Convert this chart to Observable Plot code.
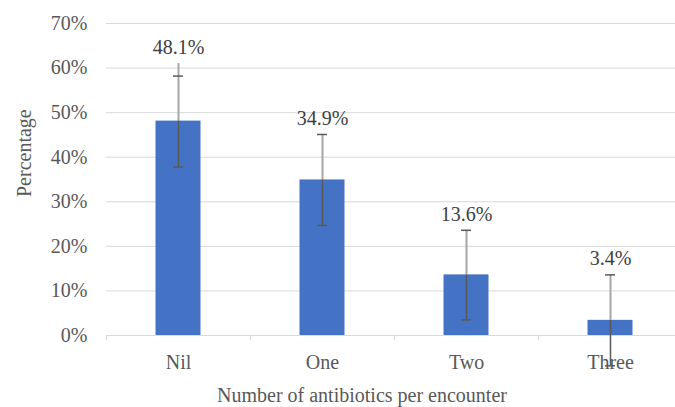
<!DOCTYPE html>
<html>
<head>
<meta charset="utf-8">
<script src="https://cdn.jsdelivr.net/npm/d3@7"></script>
<script src="https://cdn.jsdelivr.net/npm/@observablehq/plot@0.6"></script>
<style>
  html, body { margin: 0; padding: 0; background: #fff; }
  #chart svg { display: block; }
  #chart svg, #chart svg text { font-family: "Liberation Serif", "Times New Roman", serif !important; }
</style>
</head>
<body>
<div id="chart"></div>
<script>
const categories = ["Nil", "One", "Two", "Three"];
const values = [48.1, 34.9, 13.6, 3.4];
const errLow = [37.8, 24.7, 3.5, -6.8];
const errHigh = [58.2, 45.1, 23.6, 13.6];
const lineTop = [61.0, 45.1, 23.6, 13.6];
const yTicks = [0, 10, 20, 30, 40, 50, 60, 70];
const xTitle = "Number of antibiotics per encounter";
const yTitle = "Percentage";

const data = categories.map((c, i) => ({
  cat: c, value: values[i], low: errLow[i], high: errHigh[i], top: lineTop[i],
  label: values[i].toFixed(1) + "%"
}));

const font = "Liberation Serif";

const chart = Plot.plot({
  width: 675,
  height: 407,
  marginLeft: 106,
  marginRight: 0,
  marginTop: 23,
  marginBottom: 72,
  style: { fontFamily: font, fontSize: "20px", color: "#595959", background: "#fff" },
  x: { type: "band", domain: categories, range: [106, 682], padding: 0 },
  y: { domain: [0, 70] },
  marks: [
    Plot.gridY(yTicks, { stroke: "#d9d9d9", strokeOpacity: 1, strokeWidth: 1 }),
    Plot.axisY(yTicks, { tickSize: 0, tickPadding: 19, tickFormat: d => d + "%", fill: "#595959", fontSize: 20, fontFamily: font, label: null }),
    Plot.barY(data, { x: "cat", y: "value", fill: "#4472c4", insetLeft: 49.5, insetRight: 49.5 }),
    Plot.ruleY([0], { stroke: "#d9d9d9", strokeWidth: 1 }),
    Plot.axisX({ tickSize: 5, dx: -72, text: null, stroke: "#d9d9d9", label: null }),
    Plot.axisX({ tickSize: 0, tickPadding: 19, fill: "#595959", fontSize: 20, fontFamily: font, label: null }),
    Plot.ruleX(data, { x: "cat", y1: "value", y2: "top", stroke: "#a6a6a6", strokeWidth: 2 }),
    Plot.ruleX(data, { x: "cat", y1: "low", y2: "value", stroke: "#595959", strokeWidth: 1.5 }),
    Plot.tickY(data, { x: "cat", y: "high", stroke: "#595959", strokeWidth: 1.5, insetLeft: 67, insetRight: 67 }),
    Plot.tickY(data, { x: "cat", y: "low", stroke: "#595959", strokeWidth: 1.5, insetLeft: 67, insetRight: 67 }),
    Plot.text(data, { x: "cat", y: "top", text: "label", dy: -16, fill: "#404040", fontSize: 20, fontFamily: font, lineAnchor: "middle" }),
    Plot.text([xTitle], { frameAnchor: "bottom", dx: -29, dy: 60, fill: "#595959", fontSize: 20, fontFamily: font, lineAnchor: "middle" }),
    Plot.text([yTitle], { frameAnchor: "left", dx: -82, dy: 17.5, rotate: -90, fill: "#595959", fontSize: 20, fontFamily: font, lineAnchor: "middle" })
  ]
});
document.getElementById("chart").appendChild(chart);
</script>
</body>
</html>
